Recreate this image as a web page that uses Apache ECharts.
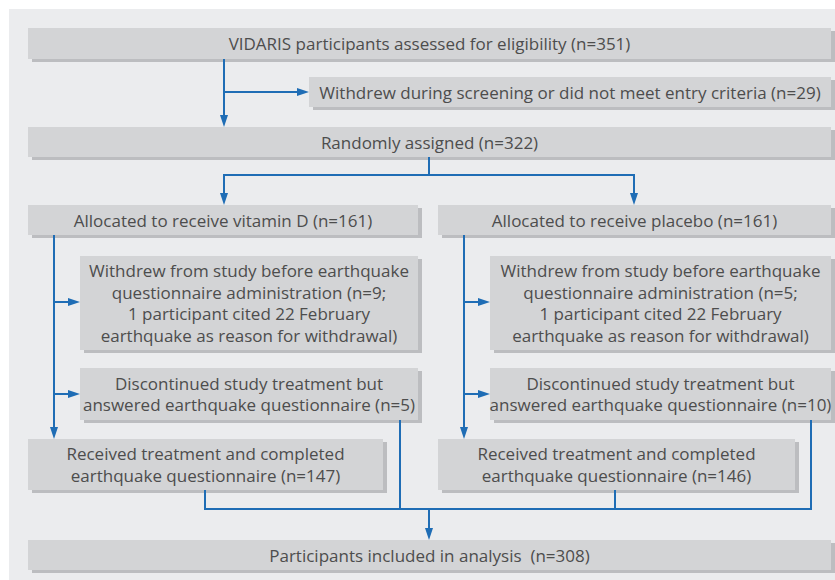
<!DOCTYPE html>
<html>
<head>
<meta charset="utf-8">
<script src="https://cdn.jsdelivr.net/npm/echarts@6/dist/echarts.min.js"></script>
<style>
  html, body { margin: 0; padding: 0; background: #fff; }
  #chart { width: 835px; height: 580px; }
</style>
</head>
<body>
<div id="chart"></div>
<script>
// ====== VIDARIS flow diagram ======
// layout space is 835 x 580, y grows downward

var boxLabels = [
  'VIDARIS participants assessed for eligibility (n=351)',
  'Withdrew during screening or did not meet entry criteria (n=29)',
  'Randomly assigned (n=322)',
  'Allocated to receive vitamin D (n=161)',
  'Allocated to receive placebo (n=161)',
  'Withdrew from study before earthquake\nquestionnaire administration (n=9;\n1 participant cited 22 February\nearthquake as reason for withdrawal)',
  'Withdrew from study before earthquake\nquestionnaire administration (n=5;\n1 participant cited 22 February\nearthquake as reason for withdrawal)',
  'Discontinued study treatment but\nanswered earthquake questionnaire (n=5)',
  'Discontinued study treatment but\nanswered earthquake questionnaire (n=10)',
  'Received treatment and completed\nearthquake questionnaire (n=147)',
  'Received treatment and completed\nearthquake questionnaire (n=146)',
  'Participants included in analysis  (n=308)'
];

// [x0, y0, x1, y1] in layout units
var boxExtents = [
  [28, 28, 831, 59],
  [309, 77, 831, 107],
  [28, 127, 831, 157],
  [28, 205, 418, 235],
  [438, 205, 831, 235],
  [80, 256, 418, 350],
  [490, 256, 831, 350],
  [80, 368, 418, 420],
  [490, 368, 831, 420],
  [28, 439, 383, 490],
  [438, 439, 795, 490],
  [28, 540, 831, 570]
];

// connector paths, last point gets an arrowhead when flagged
var connectorPaths = [
  [[224, 59], [224, 127]],
  [[224, 92], [309, 92]],
  [[429, 157], [429, 175]],
  [[429, 175], [224, 175], [224, 205]],
  [[429, 175], [634, 175], [634, 205]],
  [[54, 235], [54, 439]],
  [[54, 302], [80, 302]],
  [[54, 394], [80, 394]],
  [[464, 235], [464, 439]],
  [[464, 302], [490, 302]],
  [[464, 394], [490, 394]],
  [[205, 490], [205, 509], [811, 509], [811, 420]],
  [[400, 420], [400, 509]],
  [[615, 490], [615, 509]],
  [[429, 509], [429, 540]]
];
var connectorArrow = [true, true, false, true, true, true, true, true, true, true, true, false, false, false, true];

var blue = '#1f6db5';
var boxFill = '#d3d4d6';
var shadowFill = '#bcbdc0';
var textColor = '#4d4d4d';

var chart = echarts.init(document.getElementById('chart'), null, { renderer: 'svg' });

chart.setOption({
  animation: false,
  grid: {
    left: 9, right: 0, top: 9, bottom: 0,
    show: true, backgroundColor: '#ebecee', borderWidth: 0
  },
  xAxis: { type: 'value', min: 9, max: 835, show: false },
  yAxis: { type: 'value', min: 9, max: 580, inverse: true, show: false },
  series: [
    {
      type: 'custom',
      name: 'boxes',
      silent: true,
      data: boxExtents.map(function(b, i) { return [i]; }),
      renderItem: function(params, api) {
        var i = params.dataIndex;
        var b = boxExtents[i];
        var p0 = api.coord([b[0], b[1]]);
        var p1 = api.coord([b[2], b[3]]);
        var w = p1[0] - p0[0], h = p1[1] - p0[1];
        return {
          type: 'group',
          children: [
            { type: 'rect', shape: { x: p0[0] + 4, y: p0[1] + 3, width: w, height: h }, style: { fill: shadowFill } },
            { type: 'rect', shape: { x: p0[0], y: p0[1], width: w, height: h }, style: { fill: boxFill } },
            {
              type: 'text',
              style: {
                text: boxLabels[i],
                x: p0[0] + w / 2, y: p0[1] + h / 2,
                align: 'center', verticalAlign: 'middle',
                fontFamily: 'Open Sans', fontSize: 17, lineHeight: 21.5,
                fill: textColor
              }
            }
          ]
        };
      }
    },
    {
      type: 'custom',
      name: 'connectors',
      silent: true,
      z: 3,
      data: connectorPaths.map(function(c, i) { return [i]; }),
      renderItem: function(params, api) {
        var i = params.dataIndex;
        var pts = connectorPaths[i].map(function(p) { return api.coord(p); });
        var children = [];
        var n = pts.length;
        var end = pts[n - 1].slice();
        var linePts = pts.map(function(p) { return p.slice(); });
        if (connectorArrow[i]) {
          var prev = pts[n - 2];
          var dx = end[0] - prev[0], dy = end[1] - prev[1];
          var len = Math.sqrt(dx * dx + dy * dy);
          var ux = dx / len, uy = dy / len;
          var L = 12, W = 4;
          var bx = end[0] - ux * L, by = end[1] - uy * L;
          linePts[n - 1] = [bx + ux * 2, by + uy * 2];
          children.push({
            type: 'polygon',
            shape: { points: [end, [bx - uy * W, by + ux * W], [bx + uy * W, by - ux * W]] },
            style: { fill: blue }
          });
        }
        children.unshift({
          type: 'polyline',
          shape: { points: linePts },
          style: { stroke: blue, lineWidth: 2, fill: null }
        });
        return { type: 'group', children: children };
      }
    }
  ]
});

window.addEventListener('resize', function() { chart.resize(); });
</script>
</body>
</html>
